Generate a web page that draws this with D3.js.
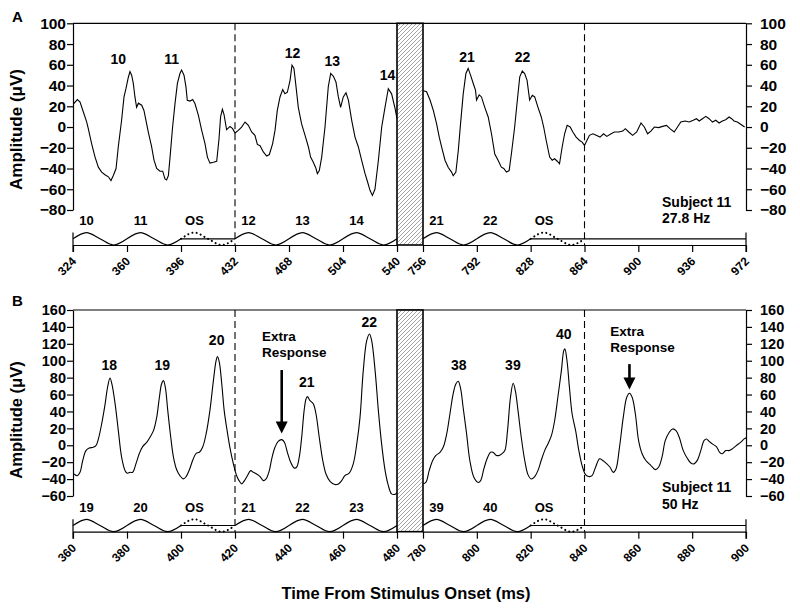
<!DOCTYPE html>
<html><head><meta charset="utf-8">
<script src="https://cdn.jsdelivr.net/npm/d3@7"></script>
<style>
body{margin:0;background:#fff}
svg text{font-family:"Liberation Sans",Arial,sans-serif;font-weight:bold;fill:#000}
</style></head><body>
<svg id="c" width="800" height="612"></svg>
<script>
// ---------------- DATA ----------------
// Panel A (27.8 Hz)
const aYTicks = [-80,-60,-40,-20,0,20,40,60,80,100];
const aXTicksLeft = [324,360,396,432,468,504,540];
const aXTicksRight = [756,792,828,864,900,936,972];
const aLeftTime = [324.2,326.9,328.7,330.9,333.1,334.2,336.4,338.7,340.9,343.1,345.3,347.6,349.3,350.9,352.7,354.2,356.4,358.0,359.3,360.9,362.0,363.1,364.2,365.3,366.4,367.6,369.8,371.3,373.1,374.2,376.4,378.0,379.8,382.0,383.8,385.3,386.4,387.6,388.7,390.4,392.0,393.6,395.3,396.4,398.0,399.3,400.2,402.0,403.8,405.3,407.6,409.8,412.0,413.6,415.3,417.6,419.8,421.3,422.4,423.6,424.7,426.4,428.7,430.4,432.0,434.2,436.4,438.7,440.9,443.1,445.3,446.9,448.7,450.9,453.1,454.9,457.1,458.7,460.2,462.0,463.8,465.3,466.9,468.7,470.0,471.3,472.7,474.2,476.4,478.7,480.9,482.4,484.2,486.0,486.9,488.2,489.8,492.0,494.2,495.8,497.6,499.3,500.9,502.4,504.2,506.0,507.6,509.8,512.0,514.2,516.4,518.7,520.4,522.0,523.6,525.3,527.6,529.8,532.0,534.2,536.4,538.7,540.0];
const aLeftAmp = [22,26.5,24,14.5,5,-1.6,-16,-29,-38.7,-43.5,-46,-48,-51.6,-46.8,-40,-19,6.5,29,37,48,53.5,50,42,29,19,23,21,16,3,-5,-19,-32,-40,-42.6,-42.6,-50,-51,-46.8,-29,0,22.6,42,51.6,55,50,38.7,25.8,25,26.5,22.6,11.3,-3.2,-16,-29,-34.8,-34,-33,-12,10,17,12,-2.6,0.6,-1.6,-5.8,-3.2,0,4.8,1.6,-4.8,-8,-16.8,-18,-24,-28,-26.5,-16,-3,16,29,36,32,33.5,45,59.7,56.5,38.7,19,3,-8,-19,-29,-34,-40,-45,-42,-29,0,39,51.6,49,43.5,29,19,29,33,26,6.5,-9.7,-19,-32,-45,-53,-61,-66,-60,-32,0,19,37,32,18,8];
const aRightTime = [756.2,758.4,760.7,762.9,765.1,766.9,768.4,770.7,772.9,775.1,776.2,778.0,779.6,781.1,782.9,784.7,786.2,787.8,789.6,791.1,791.8,793.6,795.1,797.3,799.6,801.8,804.0,806.2,808.4,810.0,811.8,813.6,815.1,817.3,819.1,820.7,822.4,824.0,825.6,827.3,829.1,830.7,832.9,835.1,836.7,838.4,840.7,842.4,844.0,845.8,847.3,849.1,850.7,852.4,854.4,856.2,858.4,860.7,862.4,864.0,865.1,867.3,869.6,871.8,874.4,876.7,878.9,881.8,884.0,886.9,889.6,891.3,893.6,896.2,898.9,901.8,904.0,906.2,908.4,910.7,913.6,916.2,918.9,921.1,924.0,926.2,928.4,931.3,934.0,936.7,938.9,940.7,942.9,945.1,947.3,949.6,951.8,954.0,956.2,958.4,960.7,962.4,964.0,966.2,968.4,971.1];
const aRightAmp = [35,34,26,16,3,-10,-19,-32,-39,-43.5,-47,-43.5,-22.6,3,32,51.6,56.5,50,42,35.5,26,31,29,19,9.7,-6.5,-26,-32,-38.7,-40,-43.5,-42,-26,0,26,48.4,54,51.6,45,26,30.6,29,19,9.7,0,-13,-29,-32,-30.6,-33,-35.5,-19,-6.5,1.6,0,-4.8,-9.7,-13,-14.5,-17.7,-14.5,-8,-6.5,-8,-9.7,-6.5,-9,-6.5,-4.8,-4.8,-3.9,-1.6,-4.8,-8,-4.8,3.9,0,-6.5,-3.9,0,-0.6,0.6,1.6,-1.6,-4.8,0,4.8,5.8,4.8,6.5,8,5.8,8,10.3,8,4.8,6.5,3.9,5.8,7,9.7,8,5.8,4.8,2.6,0];
const aStimOnsetsLeft = [324,360,396,432,468,504];
const aStimLabelsLeft = ["10","11","OS","12","13","14"];
const aStimOnsetsRight = [756,792,828];
const aStimLabelsRight = ["21","22","OS"];
const aPeakLabels = ["10","11","12","13","14","21","22"];
const aPeakLabelTimes = [354.2,389.8,470.3,496.9,533.7,785.5,822.5];
const aPeakLabelAmps = [60.4,60.4,67,58.5,45,62.7,62.4];

// Panel B (50 Hz)
const bYTicks = [-60,-40,-20,0,20,40,60,80,100,120,140,160];
const bXTicksLeft = [360,380,400,420,440,460,480];
const bXTicksRight = [780,800,820,840,860,880,900];
const bLeftTime = [360.4,361.6,362.6,363.6,364.8,366.0,367.5,368.5,369.4,370.6,371.9,372.8,373.7,374.4,375.6,376.8,378.0,379.3,380.1,381.1,382.1,383.3,384.6,385.8,387.3,388.5,389.8,391.0,392.0,392.8,393.5,394.2,395.1,396.2,397.2,398.4,399.6,400.9,401.9,403.1,404.3,405.6,406.8,408.0,409.3,410.7,412.0,413.0,413.5,414.2,415.1,416.0,416.9,418.1,419.4,420.6,421.9,422.5,423.5,424.6,425.8,426.8,428.0,429.3,430.5,431.5,432.7,433.6,434.8,436.0,437.3,438.3,439.4,440.6,441.9,442.8,443.8,444.7,445.6,446.3,446.8,447.8,449.0,450.0,451.2,452.5,453.7,455.2,457.0,458.3,459.5,460.7,462.3,463.8,465.1,466.3,467.5,468.8,469.8,470.6,471.9,473.1,474.3,475.6,476.8,478.0,479.3,480.0];
const bLeftAmp = [-34,-36,-32,-18,-6.3,-3.2,-2.4,-0.4,7.5,25,49,68.6,79.6,72.5,49,17,-14,-30,-33,-32,-32,-22,-9.5,-1.6,3.5,9.5,17.3,33,56.8,72.5,76.5,68.6,41,9.5,-14,-29,-36,-39.8,-37,-29,-18,-9.5,-8.3,-2.4,13.4,41,76.5,100,105,98,72.5,41,21,-2.4,-22,-36,-43.7,-45.7,-41.8,-36,-30,-32,-34,-37,-41.8,-39.8,-30,-16,-2.4,4.7,6.7,3.5,-8.3,-20,-26.8,-26,-14,9.5,41,54.8,57.5,52.8,49,37,9.5,-18,-34,-42.6,-46.5,-45.7,-41.8,-36,-33,-22,1.6,33,88,124,131.7,124,88,41,1.6,-30,-47.7,-57.5,-58,-56];
const bRightTime = [780.1,781.1,782.3,783.6,784.8,786.3,787.5,788.8,790.0,791.2,792.2,793.1,794.0,794.9,796.2,797.4,798.9,800.5,801.4,802.6,803.8,805.1,806.0,807.3,808.3,809.5,810.4,811.4,812.5,813.5,814.3,815.3,816.5,817.8,819.0,820.2,821.5,822.7,823.9,825.2,826.4,827.7,828.9,830.1,831.4,832.3,832.7,833.5,834.4,835.4,836.7,837.9,839.1,840.4,841.6,842.8,844.1,845.6,846.8,848.3,849.5,850.7,851.7,853.0,854.4,855.7,856.7,857.7,858.9,860.1,861.4,862.8,864.7,866.3,867.5,868.8,870.0,871.5,872.7,874.0,875.2,876.7,878.3,879.5,880.7,882.0,883.2,884.4,885.3,886.3,887.5,889.0,890.2,891.2,892.5,893.7,894.9,896.4,898.0,899.3,900.0];
const bRightAmp = [-45.7,-43.7,-30,-18,-12,-8.3,-2.4,13.4,37,60.7,72.5,75.7,66.6,45,13.4,-18,-37.8,-44,-41.8,-28,-16,-8.3,-8.3,-12,-12,-9.5,-6.3,17.3,56.8,73.3,64.6,41,9.5,-18,-34.7,-39.8,-37,-30,-18,-6.3,1.6,11.4,29,56.8,88,112,114,100,68.6,37,17.3,-6.3,-24,-34.7,-37,-36,-26,-16,-18,-22,-26,-32,-28,-2.4,33,56.8,61.5,56.8,37,5.5,-10,-18,-24,-28.8,-26,-14,5.5,15.4,19.3,17.3,9.5,-6.3,-16,-21,-22,-17.3,-6.3,5.5,7.5,4.7,1.6,-1.6,-8.3,-10,-6.3,-6.3,-4.3,-0.4,3.5,7.5,9];
const bStimOnsetsLeft = [360,380,400,420,440,460];
const bStimLabelsLeft = ["19","20","OS","21","22","23"];
const bStimOnsetsRight = [780,800,820];
const bStimLabelsRight = ["39","40","OS"];
const bPeakLabels = ["18","19","20","21","22","38","39","40"];
const bPeakLabelTimes = [373.4,393.1,413.2,446.6,469.7,793.3,813.4,832.3];
const bPeakLabelAmps = [89,89,118.6,69,140,89,89,125.7];
const bExtraTextTimes = [430,849.6];
const bExtraArrowTimes = [437.3,856.7];
const bExtraArrowTail = [89,96];
const bExtraArrowTip = [14,66];
const bExtraTextAmps = [123,129];
const bResponseTextAmps = [104.4,110.4];

// ---------------- LAYOUT ----------------
const X0 = 73, XG1 = 397, XG2 = 423, X1 = 746;
const svg = d3.select("#c");
const defs = svg.append("defs");
const pat = defs.append("pattern").attr("id","hatch").attr("patternUnits","userSpaceOnUse")
  .attr("width",4).attr("height",4);
pat.append("rect").attr("width",4).attr("height",4).attr("fill","#fff");
pat.append("path").attr("d","M-1,1 l2,-2 M0,4 l4,-4 M3,5 l2,-2")
  .attr("stroke","#666").attr("stroke-width",0.6);

function panel(cfg){
  const g = svg.append("g");
  const xL = d3.scaleLinear().domain([cfg.xl[0], cfg.xl[cfg.xl.length-1]]).range([X0, XG1]);
  const xR = d3.scaleLinear().domain([cfg.xr[0], cfg.xr[cfg.xr.length-1]]).range([XG2, X1]);
  const xs = t => t <= cfg.xl[cfg.xl.length-1] ? xL(t) : xR(t);
  const y = d3.scaleLinear().domain([cfg.yTicks[0], cfg.yTicks[cfg.yTicks.length-1]]).range([cfg.yBottom, cfg.yTop]);
  const axisY = cfg.axisY;

  g.append("line").attr("x1",X0).attr("x2",X1).attr("y1",cfg.yTop).attr("y2",cfg.yTop)
    .attr("stroke","#000").attr("stroke-width",1.2);

  const yl = g.append("g").attr("transform",`translate(${X0},0)`)
    .call(d3.axisLeft(y).tickValues(cfg.yTicks).tickSize(6).tickSizeOuter(0).tickPadding(1));
  const yr = g.append("g").attr("transform",`translate(${X1},0)`)
    .call(d3.axisRight(y).tickValues(cfg.yTicks).tickSize(6).tickSizeOuter(0).tickPadding(8));
  [yl,yr].forEach(a=>{
    a.attr("font-family",null).attr("font-size",null);
    a.selectAll("text").attr("font-size",cfg.yTickFont);
    a.selectAll("path,line").attr("stroke-width",1.2);
  });

  [[xL,cfg.xl],[xR,cfg.xr]].forEach(([sc,ticks])=>{
    const ax = g.append("g").attr("transform",`translate(0,${axisY})`)
      .call(d3.axisBottom(sc).tickValues(ticks).tickSize(7).tickSizeOuter(0));
    ax.attr("font-family",null).attr("font-size",null);
    ax.selectAll("path,line").attr("stroke-width",1.2);
    ax.selectAll("text").attr("x",0).attr("y",0).attr("dy",0)
      .attr("text-anchor","end").attr("font-size",12)
      .attr("transform","translate(3.5,17) rotate(-45)");
  });
  [X0,X1].forEach(xx=>g.append("line").attr("x1",xx).attr("x2",xx)
    .attr("y1",axisY-12.5).attr("y2",axisY+7).attr("stroke","#000").attr("stroke-width",1.2));

  cfg.dashes.forEach(t=>g.append("line").attr("x1",xs(t)).attr("x2",xs(t))
    .attr("y1",cfg.yTop).attr("y2",axisY).attr("stroke","#000").attr("stroke-width",1.1)
    .attr("stroke-dasharray","7,4"));

  const line = d3.line().x(d=>xs(d[0])).y(d=>y(d[1])).curve(cfg.curve);
  [[cfg.lt,cfg.la],[cfg.rt,cfg.ra]].forEach(([ts,as])=>{
    g.append("path").attr("d",line(ts.map((t,i)=>[t,as[i]])))
      .attr("fill","none").attr("stroke","#000").attr("stroke-width",1.1);
  });

  const sy = d3.scaleLinear().domain([-1,1]).range([axisY, axisY-12.4]);
  const sline = d3.line().x(d=>xs(d[0])).y(d=>sy(d[1])).curve(d3.curveMonotoneX);
  function stim(onsets, labels, segEnd){
    const P = cfg.period;
    onsets.forEach((o,i)=>{
      const pts = [[o,0],[o+P/4,1],[o+P/2,0],[o+3*P/4,-1],[o+P,0]];
      if(labels[i]==="OS"){
        g.append("path").attr("d",sline(pts)).attr("fill","none").attr("stroke","#000")
          .attr("stroke-width",2).attr("stroke-dasharray","0.1,4.2").attr("stroke-linecap","round");
        g.append("line").attr("x1",xs(o)).attr("x2",xs(o+P)).attr("y1",sy(0)).attr("y2",sy(0))
          .attr("stroke","#000").attr("stroke-width",1.2);
      } else {
        g.append("path").attr("d",sline(pts)).attr("fill","none").attr("stroke","#000").attr("stroke-width",1.2);
      }
      g.append("text").attr("x",xs(o+P/4)).attr("y",axisY-20).attr("text-anchor","middle")
        .attr("font-size",13).text(labels[i]);
    });
    const last = onsets[onsets.length-1]+P;
    if(last < segEnd){
      g.append("line").attr("x1",xs(last)).attr("x2",xs(segEnd)).attr("y1",sy(0)).attr("y2",sy(0))
        .attr("stroke","#000").attr("stroke-width",1.2);
    }
  }
  stim(cfg.sol, cfg.sll, cfg.xl[cfg.xl.length-1]);
  stim(cfg.sor, cfg.slr, cfg.xr[cfg.xr.length-1]);

  g.append("rect").attr("x",XG1).attr("y",cfg.yTop).attr("width",XG2-XG1).attr("height",axisY-cfg.yTop)
    .attr("fill","url(#hatch)").attr("stroke","#000").attr("stroke-width",1.6);

  cfg.pl.forEach((s,i)=>g.append("text").attr("x",xs(cfg.pt[i])).attr("y",y(cfg.pa[i]))
    .attr("text-anchor","middle").attr("font-size",14).text(s));

  g.append("text").attr("x",12).attr("y",cfg.letterY).attr("font-size",15).text(cfg.letter);

  g.append("text").attr("transform",`translate(22,${cfg.titleY}) rotate(-90)`)
    .attr("text-anchor","middle").attr("font-size",cfg.titleFont)
    .text("Amplitude (\u03BCV)");

  g.append("text").attr("x",X1-84).attr("y",axisY-cfg.subOff[0]).attr("font-size",14).text(cfg.sub[0]);
  g.append("text").attr("x",X1-84).attr("y",axisY-cfg.subOff[1]).attr("font-size",14).text(cfg.sub[1]);

  return {g, xs, y};
}

panel({
  xl:aXTicksLeft, xr:aXTicksRight, yTicks:aYTicks, yTop:23.3, yBottom:210, axisY:245,
  yTickFont:15.5, dashes:[432,864], curve:d3.curveLinear,
  lt:aLeftTime, la:aLeftAmp, rt:aRightTime, ra:aRightAmp,
  period:36, sol:aStimOnsetsLeft, sll:aStimLabelsLeft, sor:aStimOnsetsRight, slr:aStimLabelsRight,
  pl:aPeakLabels, pt:aPeakLabelTimes, pa:aPeakLabelAmps,
  letter:"A", letterY:22, titleY:129.5, titleFont:17,
  sub:["Subject 11","27.8 Hz"], subOff:[38,22]
});

const pB = panel({
  xl:bXTicksLeft, xr:bXTicksRight, yTicks:bYTicks, yTop:310, yBottom:496, axisY:531.7,
  yTickFont:14.5, dashes:[420,840], curve:d3.curveCatmullRom.alpha(0.5),
  lt:bLeftTime, la:bLeftAmp, rt:bRightTime, ra:bRightAmp,
  period:20, sol:bStimOnsetsLeft, sll:bStimLabelsLeft, sor:bStimOnsetsRight, slr:bStimLabelsRight,
  pl:bPeakLabels, pt:bPeakLabelTimes, pa:bPeakLabelAmps,
  letter:"B", letterY:306, titleY:420, titleFont:16.5,
  sub:["Subject 11","50 Hz"], subOff:[40,22.5]
});

bExtraTextTimes.forEach((t,i)=>{
  pB.g.append("text").attr("x",pB.xs(t)).attr("y",pB.y(bExtraTextAmps[i])).attr("font-size",13.5).text("Extra");
  pB.g.append("text").attr("x",pB.xs(t)).attr("y",pB.y(bResponseTextAmps[i])).attr("font-size",13.5).text("Response");
  const ax = pB.xs(bExtraArrowTimes[i]);
  const tail = pB.y(bExtraArrowTail[i]), tip = pB.y(bExtraArrowTip[i]);
  pB.g.append("line").attr("x1",ax).attr("x2",ax).attr("y1",tail).attr("y2",tip-8)
    .attr("stroke","#000").attr("stroke-width",2.6);
  const p = d3.path();
  p.moveTo(ax-6,tip-12); p.lineTo(ax+6,tip-12); p.lineTo(ax,tip); p.closePath();
  pB.g.append("path").attr("d",p.toString()).attr("fill","#000");
});

svg.append("text").attr("x",406).attr("y",599).attr("text-anchor","middle").attr("font-size",16.5)
  .text("Time From Stimulus Onset (ms)");
</script>
</body></html>
